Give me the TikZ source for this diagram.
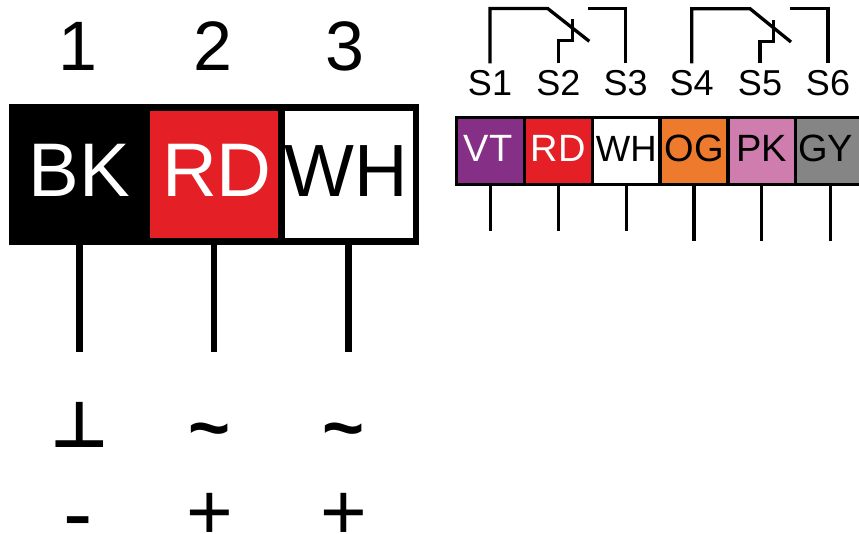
\documentclass[tikz,border=0pt]{standalone}
\usepackage{fontspec}
\setmainfont{Liberation Sans}
\newfontfamily\symfont{DejaVu Sans}
\usetikzlibrary{calc,positioning}
\definecolor{wirepurple}{HTML}{862F87}
\definecolor{wirered}{HTML}{E41F26}
\definecolor{wireorange}{HTML}{EE7B2D}
\definecolor{wirepink}{HTML}{CE7DAE}
\definecolor{wiregray}{HTML}{858585}
\tikzset{
  bigcell/.style={draw=black,line width=6.5pt,minimum width=134.5pt,minimum height=134.2pt,
    inner sep=0pt,text depth=8pt,font=\fontsize{76}{76}\selectfont},
  smallcell/.style={draw=black,line width=3.3pt,minimum width=67.8pt,minimum height=67.4pt,
    inner sep=0pt,text depth=4.6pt,font=\fontsize{38}{38}\selectfont},
  pinnum/.style={inner sep=0pt,font=\fontsize{70}{70}\selectfont},
  pinname/.style={inner sep=6.7pt,font=\fontsize{36}{36}\selectfont},
  signal/.style={inner sep=0pt,font=\bfseries\fontsize{72}{72}\selectfont},
  polarity/.style={inner sep=0pt,font=\fontsize{80}{80}\selectfont},
  thickwire/.style={line width=6.3pt},
  thinwire/.style={line width=3.3pt}
}
\begin{document}
\begin{tikzpicture}[x=1pt,y=-1pt]
  \useasboundingbox(0,0)rectangle(859,533);
  % big connector
  \node[pinnum](n1) at (78,46){1};
  \node[pinnum](n2) at (213,46){2};
  \node[pinnum](n3) at (345,46){3};
  \node[bigcell,fill=black,text=white](bk) at (79.5,174.6){BK};
  \node[bigcell,fill=wirered,text=white](rd) at (214,174.6){\kern6pt RD};
  \node[bigcell,fill=white,font=\fontsize{74}{74}\selectfont](wh) at (348.5,174.6){\kern-5pt WH};
  \coordinate(bkend) at (79.5,352);
  \coordinate(rdend) at (214,352);
  \coordinate(whend) at (348.5,352);
  \draw[thickwire](bk.south)--(bkend);
  \draw[thickwire](rd.south)--(rdend);
  \draw[thickwire](wh.south)--(whend);
  \node[signal,font=\symfont\bfseries\fontsize{64}{64}\selectfont](gnd) at (80,424.5){⊥};
  \node[signal](ac1) at (210,438){\char`~};
  \node[signal](ac2) at (344,438){\char`~};
  \node[polarity,font=\fontsize{88}{88}\selectfont](minus) at (78,530){-};
  \node[polarity](plus1) at (210,516){+};
  \node[polarity](plus2) at (344,516){+};
  % small connector
  \node[smallcell,fill=wirepurple,text=white](vt) at (490.6,151){\kern-5pt VT};
  \node[smallcell,fill=wirered,text=white](rd2) at (558.4,151){RD};
  \node[smallcell,fill=white,font=\fontsize{36.5}{36.5}\selectfont](wh2) at (626.2,151){WH};
  \node[smallcell,fill=wireorange](og) at (694,151){OG};
  \node[smallcell,fill=wirepink](pk) at (761.8,151){PK};
  \node[smallcell,fill=wiregray](gy) at (829.6,151){\kern-8pt GY};
  \coordinate(vtend) at (490.6,231);
  \coordinate(rd2end) at (558.4,231);
  \coordinate(wh2end) at (626.2,231);
  \coordinate(ogend) at (694,241);
  \coordinate(pkend) at (761.8,241);
  \coordinate(gyend) at (830.4,241);
  \draw[thinwire](vt.south)--(vtend);
  \draw[thinwire](rd2.south)--(rd2end);
  \draw[thinwire](wh2.south)--(wh2end);
  \draw[thinwire](og.south)--(ogend);
  \draw[thinwire](pk.south)--(pkend);
  \draw[thinwire](gy.south-|gyend)--(gyend);
  % switch contacts
  \node[pinname](s1) at (490,83){S1};
  \node[pinname](s2) at (558.3,83){S2};
  \node[pinname](s3) at (625.7,83){S3};
  \node[pinname](s4) at (691.7,83){S4};
  \node[pinname](s5) at (760,83){S5};
  \node[pinname](s6) at (828,83){S6};
  \coordinate(hingeA) at (547.7,8.5);
  \coordinate(tipA) at (589.3,41.3);
  \coordinate(kneeA) at (572.7,40.7);
  \coordinate(stopA) at (572.7,19.3);
  \coordinate(openA) at (588.3,8.5);
  \coordinate(hingeB) at (750,8.7);
  \coordinate(tipB) at (791,42);
  \coordinate(kneeB) at (773.3,41.5);
  \coordinate(stopB) at (773.3,20);
  \coordinate(openB) at (790,8.7);
  \draw[thinwire](s1.north)|-(hingeA)--(tipA);
  \draw[thinwire](s2.north)|-(kneeA)--(stopA);
  \draw[thinwire](s3.north)|-(openA);
  \draw[thinwire](s4.north)|-(hingeB)--(tipB);
  \draw[thinwire](s5.north)|-(kneeB)--(stopB);
  \draw[thinwire](s6.north)|-(openB);
\end{tikzpicture}
\end{document}
